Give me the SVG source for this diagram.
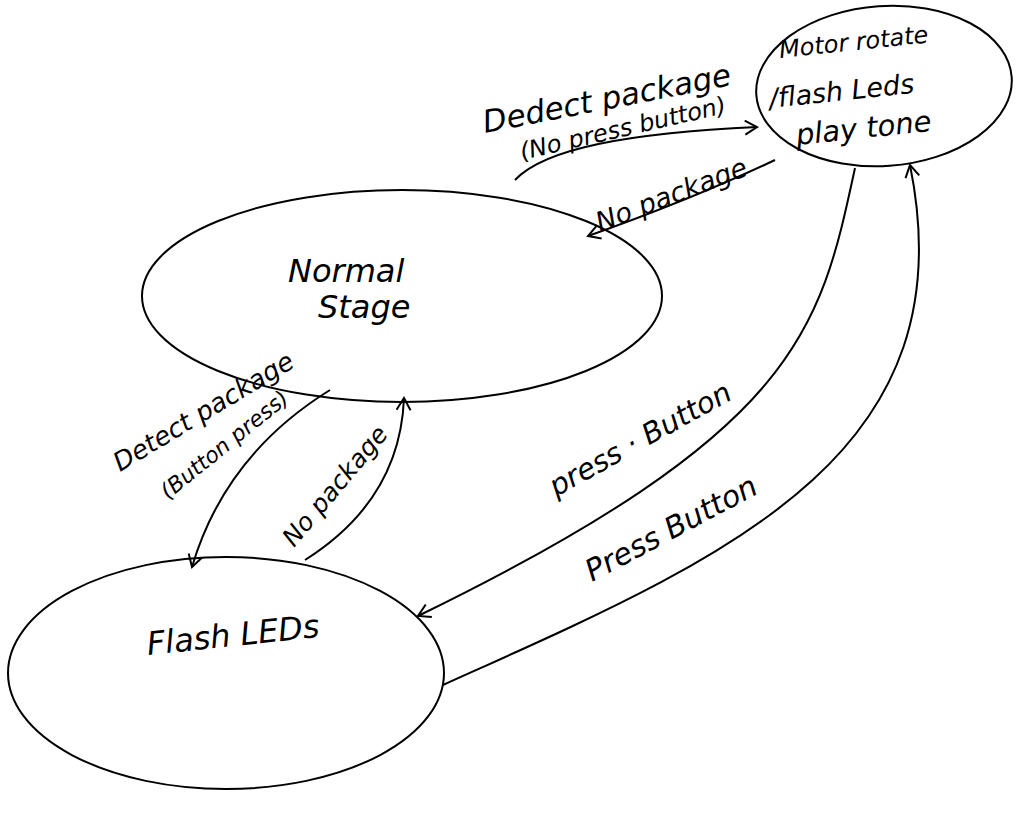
<svg xmlns="http://www.w3.org/2000/svg" width="1021" height="831" viewBox="0 0 1021 831">
<style>
.st{fill:none;stroke:#000;stroke-width:2}
.c{fill:none;stroke:#000;stroke-width:2}
.t{font-family:"DejaVu Sans","Liberation Sans",sans-serif;font-style:italic;fill:#000}
.nd{font-size:32px}
</style>
<defs>
<marker id="ah" markerWidth="20" markerHeight="20" refX="14" refY="8" orient="auto" markerUnits="userSpaceOnUse">
<path d="M2,1 L14,8 L2,15" fill="none" stroke="#000" stroke-width="2"/>
</marker>
</defs>
<rect width="1021" height="831" fill="#fff"/>
<g id="normal">
<ellipse class="st" cx="402" cy="296" rx="260" ry="106"/>
<text class="t nd" x="288" y="282">Normal</text>
<text class="t nd" x="318" y="318">Stage</text>
</g>
<g id="flash">
<ellipse class="st" cx="226" cy="673" rx="218" ry="116"/>
<text class="t nd" x="148" y="655" transform="rotate(-6 148 655)" font-size="36">Flash LEDs</text>
</g>
<g id="motor">
<ellipse class="st" cx="884" cy="86" rx="128" ry="80" transform="rotate(-4 884 86)"/>
<text class="t" font-size="24" x="780" y="58" transform="rotate(-6 780 58)">Motor rotate</text>
<text class="t" font-size="27" x="770" y="108" transform="rotate(-6 770 108)">/flash Leds</text>
<text class="t" font-size="29" x="797" y="145" transform="rotate(-6 797 145)">play tone</text>
</g>
<g id="connectors">
<path class="c" d="M515,180 C545,148 630,133 757,127" marker-end="url(#ah)"/>
<path class="c" d="M775,160 Q690,200 588,236" marker-end="url(#ah)"/>
<path class="c" d="M330,390 Q225,455 192,567" marker-end="url(#ah)"/>
<path class="c" d="M305,560 Q400,500 404,398" marker-end="url(#ah)"/>
<path class="c" d="M855,168 C820,330 800,430 418,616" marker-end="url(#ah)"/>
<path class="c" d="M443,685 C720,560 970,460 910,165" marker-end="url(#ah)"/>
</g>
<g id="labels">
<text class="t" font-size="31" x="485" y="133" transform="rotate(-11 485 133)">Dedect package</text>
<text class="t" font-size="24" x="522" y="160" transform="rotate(-13 522 160)">(No press button)</text>
<text class="t" font-size="27" x="600" y="232" transform="rotate(-21 600 232)">No package</text>
<text class="t" font-size="26" x="120" y="472" transform="rotate(-31 120 472)">Detect package</text>
<text class="t" font-size="22" x="168" y="500" transform="rotate(-39 168 500)">(Button press)</text>
<text class="t" font-size="25" x="294" y="548" transform="rotate(-50 294 548)">No package</text>
<text class="t" font-size="29" x="556" y="497" transform="rotate(-29 556 497)">press · Button</text>
<text class="t" font-size="30" x="592" y="582" transform="rotate(-28 592 582)">Press Button</text>
</g>
</svg>
